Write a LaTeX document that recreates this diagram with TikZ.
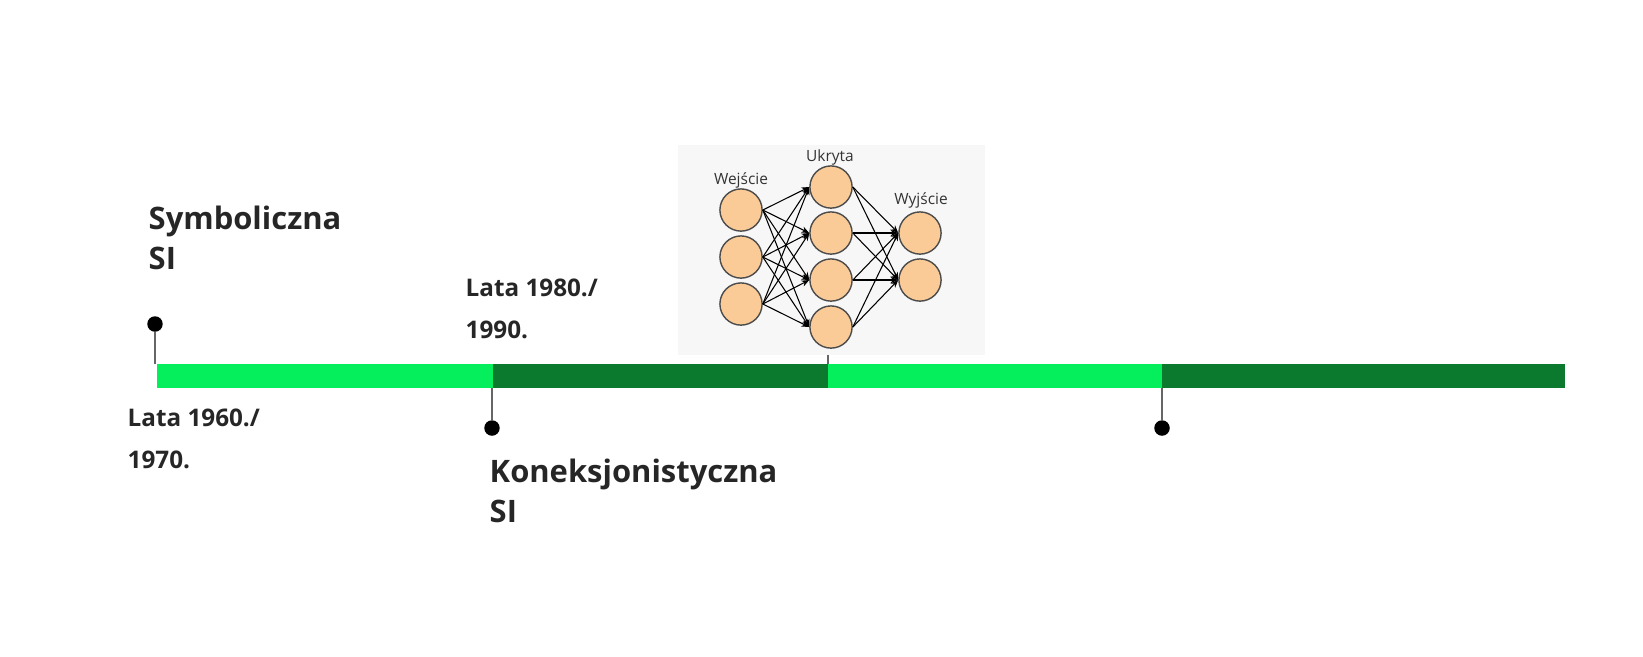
\documentclass[tikz,border=0pt]{standalone}
\usepackage{fontspec}
\setmainfont{Open Sans}
\usetikzlibrary{arrows.meta}
\definecolor{lightbar}{HTML}{05EE5C}
\definecolor{darkbar}{HTML}{0B7A2F}
\definecolor{neuron}{HTML}{FBCB97}
\tikzset{
  dot/.style={circle,fill=black,inner sep=0pt,minimum size=4.4pt},
  era/.style={font=\fontsize{8.8}{11.5}\selectfont\bfseries,align=left,text=black!85,anchor=north west,inner sep=0pt},
  year/.style={font=\fontsize{6.9}{12}\selectfont\bfseries,align=left,text=black!85,anchor=north west,inner sep=0pt},
  unit/.style={circle,draw=black!70,fill=neuron,minimum size=12pt,inner sep=0pt,line width=0.4pt},
  layer/.style={font=\fontsize{4.4}{5}\selectfont,text=black!80},
  link/.style={-{Stealth[length=2.2pt,width=1.8pt]},line width=0.3pt}
}
\begin{document}
\begin{tikzpicture}[x=0.01cm,y=-0.01cm]
  \useasboundingbox (0,0) rectangle (1643,656);
  \begin{scope}[overlay]
  % timeline
  \fill[lightbar] (157,364) rectangle (493,388);
  \fill[darkbar] (493,364) rectangle (828,388);
  \fill[lightbar] (828,364) rectangle (1162,388);
  \fill[darkbar] (1162,364) rectangle (1565,388);
  \node[dot] (d1) at (155,324) {};
  \node[dot] (d2) at (492,428) {};
  \node[dot] (d3) at (1162,428) {};
  \coordinate (b1) at (155,364);
  \coordinate (b2) at (492,388);
  \coordinate (b3) at (1162,388);
  \coordinate (b4) at (828,364);
  \coordinate (t4) at (828,352);
  \draw[black!60,line width=0.4pt] (d1) -- (b1);
  \draw[black!60,line width=0.4pt] (d2) -- (b2);
  \draw[black!60,line width=0.4pt] (d3) -- (b3);
  \draw[black!60,line width=0.4pt] (t4) -- (b4);
  % labels
  \node[era] (sym) at (148,205) {Symboliczna\\SI};
  \node[era] (kon) at (489,458) {Koneksjonistyczna\\SI};
  \node[year] (y1) at (127,408) {Lata 1960./\\1970.};
  \node[year] (y2) at (465,278) {Lata 1980./\\1990.};
  % network
  \fill[black!3] (678,145) rectangle (985,355);
  \foreach \i/\y in {1/210,2/257,3/304} \node[unit] (in\i) at (741,\y) {};
  \foreach \i/\y in {1/187,2/233,3/280,4/327} \node[unit] (hid\i) at (831,\y) {};
  \foreach \i/\y in {1/233,2/280} \node[unit] (out\i) at (920,\y) {};
  \node[layer] at (741,180) {Wejście};
  \node[layer] at (830,157) {Ukryta};
  \node[layer] at (921,200) {Wyjście};
  \foreach \i in {1,2,3}
    \foreach \j in {1,...,4}
      \draw[link] (in\i.east) -- (hid\j.west);
  \foreach \j in {1,...,4}
    \foreach \k in {1,2}
      \draw[link] (hid\j.east) -- (out\k.west);
  \end{scope}
\end{tikzpicture}
\end{document}
